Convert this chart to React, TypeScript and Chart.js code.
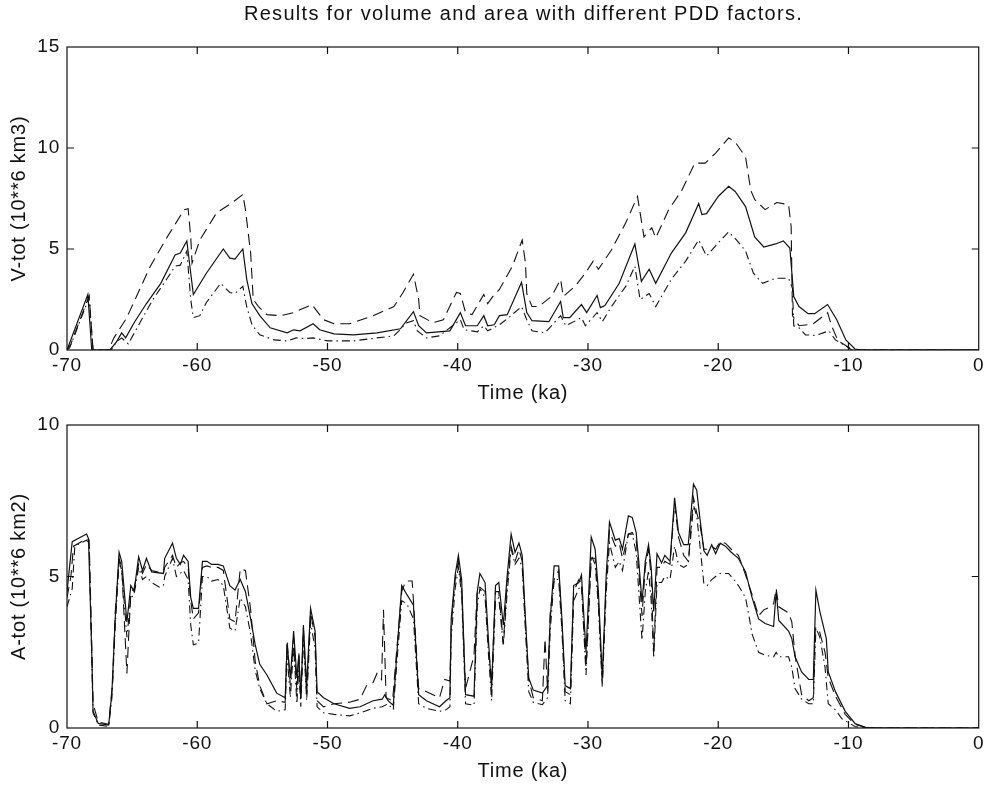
import React, { useEffect, useRef } from "react";
import { Chart, registerables } from "chart.js";

Chart.register(...registerables);

// ---------- text ----------
const TITLE = "Results for volume and area with different PDD factors.";
const X_LABEL = "Time (ka)";
const V_LABEL = "V-tot (10**6 km3)";
const A_LABEL = "A-tot (10**6 km2)";

// ---------- tick labels ----------
const X_TICKS = [-70, -60, -50, -40, -30, -20, -10, 0];
const V_TICKS = [0, 5, 10, 15];
const A_TICKS = [0, 5, 10];

// ---------- top panel: volume [time ka, value] ----------
const volSolid = [
  [-70, 0], [-68.4, 2.75], [-68.1, 0], [-67.9, 0], [-66.7, 0], [-66.2, 0.4], [-65.8, 0.85], [-65.5, 0.6],
  [-64.8, 1.4], [-63.9, 2.3], [-62.8, 3.3], [-61.7, 4.7], [-61.3, 4.8], [-60.8, 5.4], [-60.5, 3.8], [-60.3, 2.75],
  [-59.3, 3.8], [-58.0, 5.0], [-57.5, 4.55], [-57.1, 4.5], [-56.5, 5.0], [-56.2, 3.5], [-55.8, 2.3], [-55.2, 1.7],
  [-54.4, 1.1], [-53.1, 0.85], [-52.6, 1.0], [-52.1, 0.95], [-51.1, 1.3], [-50.6, 1.0], [-49.5, 0.8], [-48.0, 0.75],
  [-46.2, 0.85], [-44.4, 1.05], [-43.4, 1.9], [-43.0, 1.2], [-42.4, 0.85], [-40.6, 0.95], [-39.8, 1.85], [-39.4, 1.2],
  [-38.5, 1.2], [-38.0, 1.7], [-37.7, 1.2], [-37.2, 1.25], [-36.8, 1.7], [-36.2, 1.75], [-35.1, 3.35], [-34.7, 1.85],
  [-34.3, 1.45], [-33.0, 1.4], [-32.1, 2.4], [-31.9, 1.6], [-31.4, 1.6], [-30.5, 2.25], [-30.1, 1.85], [-29.3, 2.7],
  [-29.05, 2.1], [-28.7, 2.2], [-27.6, 3.3], [-26.4, 5.25], [-25.9, 3.4], [-25.3, 4.0], [-24.8, 3.3], [-23.6, 4.8],
  [-22.5, 5.8], [-21.5, 7.25], [-21.25, 6.7], [-20.9, 6.75], [-20.0, 7.6], [-19.2, 8.1], [-18.7, 7.85], [-17.9, 7.1],
  [-17.2, 5.6], [-16.5, 5.1], [-15.6, 5.25], [-15.0, 5.4], [-14.5, 5.05], [-14.2, 2.65], [-13.8, 2.15], [-13.1, 1.8],
  [-12.6, 1.8], [-11.6, 2.25], [-10.9, 1.5], [-10.2, 0.5], [-9.5, 0.05], [-9.0, 0], [0, 0],
];

const volDashed = [
  [-70, 0], [-69.7, 0.3], [-68.3, 2.7], [-68.0, 0], [-66.8, 0], [-66.4, 0.6], [-65.5, 1.5], [-65.2, 1.9],
  [-63.6, 4.15], [-62.3, 5.6], [-61.0, 6.95], [-60.7, 7.0], [-60.5, 5.6], [-60.4, 4.3], [-59.8, 5.45], [-58.5, 6.8],
  [-57.3, 7.3], [-56.5, 7.7], [-56.3, 6.95], [-55.9, 4.8], [-55.7, 2.5], [-55.3, 2.15], [-54.65, 1.75], [-53.6, 1.7],
  [-52.6, 1.85], [-51.2, 2.25], [-50.3, 1.5], [-49.5, 1.3], [-48.3, 1.3], [-46.5, 1.7], [-44.9, 2.15], [-44.2, 2.85],
  [-43.4, 3.75], [-43.0, 2.5], [-42.9, 1.7], [-41.9, 1.35], [-41.1, 1.5], [-40.1, 2.85], [-39.8, 2.8], [-39.4, 1.85],
  [-38.9, 1.75], [-38.0, 2.75], [-37.7, 2.3], [-37.3, 2.65], [-36.8, 3.0], [-35.8, 4.15], [-35.05, 5.45], [-34.8, 4.3],
  [-34.7, 2.8], [-34.3, 2.15], [-33.8, 2.15], [-32.8, 2.65], [-32.1, 3.5], [-31.9, 2.65], [-31.0, 3.15], [-30.2, 3.8],
  [-29.6, 4.4], [-29.2, 4.0], [-28.2, 4.95], [-27.1, 6.3], [-26.2, 7.6], [-26.0, 6.8], [-25.7, 5.6], [-25.1, 6.05],
  [-24.8, 5.55], [-23.8, 6.95], [-22.8, 7.9], [-21.8, 9.25], [-21.0, 9.25], [-20.2, 9.75], [-19.2, 10.5], [-18.7, 10.3],
  [-17.9, 9.55], [-17.5, 7.9], [-17.2, 7.45], [-16.4, 6.95], [-15.5, 7.3], [-14.6, 7.2], [-14.4, 6.1], [-14.3, 1.7],
  [-13.8, 1.2], [-13.1, 1.25], [-12.7, 1.3], [-11.6, 1.85], [-11.3, 1.2], [-10.8, 0.45], [-9.9, 0.1], [-9.4, 0], [0, 0],
];

const volDashDot = [
  [-70, 0], [-69.8, 0.1], [-68.3, 2.6], [-68.0, 0], [-66.6, 0], [-66.2, 0.4], [-65.8, 0.6], [-65.3, 0.3],
  [-64.4, 1.35], [-63.4, 2.5], [-62.3, 3.55], [-61.7, 4.15], [-61.3, 4.2], [-60.8, 4.9], [-60.5, 2.5], [-60.3, 1.6],
  [-59.8, 1.7], [-59.3, 2.35], [-58.2, 3.3], [-57.5, 2.85], [-57.1, 2.8], [-56.5, 3.15], [-56.2, 2.15], [-55.8, 1.25],
  [-55.2, 0.75], [-54.1, 0.5], [-53.1, 0.45], [-52.4, 0.6], [-51.7, 0.57], [-51.1, 0.6], [-50.0, 0.45], [-48.0, 0.45],
  [-46.2, 0.6], [-44.9, 0.7], [-43.9, 1.35], [-43.4, 1.45], [-43.1, 0.95], [-42.4, 0.6], [-41.4, 0.7], [-39.8, 1.5],
  [-39.5, 1.0], [-38.5, 0.9], [-38.0, 1.2], [-37.7, 0.95], [-36.8, 1.25], [-36.1, 1.6], [-35.1, 2.15], [-34.7, 1.5],
  [-34.3, 0.95], [-33.3, 0.85], [-32.1, 1.7], [-31.7, 1.2], [-30.5, 1.6], [-30.2, 1.2], [-29.3, 1.85], [-28.9, 1.4],
  [-28.2, 2.15], [-27.1, 3.15], [-26.4, 4.15], [-26.0, 2.5], [-25.3, 2.8], [-24.8, 2.15], [-23.6, 3.5], [-22.5, 4.4],
  [-21.5, 5.45], [-20.9, 4.65], [-20.0, 5.3], [-19.2, 5.85], [-18.6, 5.45], [-17.9, 4.9], [-17.3, 3.8], [-16.6, 3.3],
  [-15.6, 3.55], [-14.6, 3.55], [-14.3, 3.05], [-14.2, 1.2], [-13.8, 1.1], [-13.3, 0.75], [-12.5, 0.72], [-11.5, 0.95],
  [-11.0, 0.5], [-10.2, 0.2], [-9.75, 0], [0, 0],
];

// ---------- bottom panel: area [time ka, value] ----------
const areaSolid = [
  [-70, 4.5], [-69.6, 6.15], [-68.5, 6.4], [-68.35, 6.25], [-68.1, 2.5], [-68.0, 0.55], [-67.6, 0.15], [-66.8, 0.1],
  [-66.55, 1.2], [-66.3, 3.6], [-66.0, 5.8], [-65.8, 5.5], [-65.4, 3.5], [-65.1, 4.7], [-64.85, 4.5], [-64.5, 5.65],
  [-64.2, 5.2], [-63.9, 5.6], [-63.5, 5.15], [-62.6, 5.1], [-62.5, 5.6], [-61.9, 6.1], [-61.6, 5.6], [-61.3, 5.4],
  [-61.05, 5.7], [-60.7, 5.5], [-60.5, 4.3], [-60.3, 3.95], [-59.9, 3.95], [-59.6, 5.5], [-59.25, 5.5], [-58.9, 5.4],
  [-58.4, 5.4], [-58.0, 5.35], [-57.5, 4.7], [-57.1, 4.55], [-56.7, 4.9], [-56.3, 4.5], [-55.9, 3.6], [-55.55, 2.75],
  [-55.2, 2.1], [-54.65, 1.75], [-53.9, 1.15], [-53.25, 1.0], [-53.1, 2.75], [-52.85, 1.65], [-52.6, 3.2], [-52.35, 1.65],
  [-52.2, 2.4], [-52.05, 1.0], [-51.85, 3.4], [-51.6, 1.4], [-51.3, 3.95], [-50.95, 3.2], [-50.8, 1.2], [-50.3, 1.0],
  [-49.5, 0.8], [-48.3, 0.65], [-47.5, 0.7], [-46.5, 0.9], [-45.8, 0.95], [-45.6, 1.1], [-45.35, 0.9], [-44.95, 0.75],
  [-44.7, 2.3], [-44.3, 4.7], [-43.9, 4.4], [-43.4, 4.05], [-43.0, 1.1], [-42.4, 0.9], [-41.4, 0.7], [-40.9, 0.9],
  [-40.6, 1.0], [-40.5, 3.6], [-40.2, 5.05], [-39.95, 5.7], [-39.7, 4.9], [-39.4, 1.1], [-38.75, 1.05], [-38.5, 4.5],
  [-38.3, 5.1], [-37.9, 4.8], [-37.65, 2.95], [-37.4, 1.3], [-37.1, 4.7], [-36.85, 4.8], [-36.5, 3.4], [-36.2, 5.05],
  [-35.9, 6.4], [-35.6, 5.8], [-35.3, 6.1], [-35.05, 5.7], [-34.8, 3.6], [-34.55, 1.65], [-34.2, 1.25], [-33.5, 1.15],
  [-33.1, 1.4], [-32.9, 3.6], [-32.6, 5.35], [-32.25, 5.35], [-32.0, 3.6], [-31.75, 1.4], [-31.35, 1.3], [-31.1, 4.7],
  [-30.7, 4.8], [-30.5, 5.05], [-30.15, 2.5], [-29.75, 6.3], [-29.45, 5.9], [-29.2, 4.5], [-28.9, 1.65], [-28.6, 5.05],
  [-28.35, 6.8], [-27.9, 6.2], [-27.6, 6.25], [-27.35, 5.9], [-26.9, 7.0], [-26.6, 6.95], [-26.3, 6.45], [-26.1, 5.5],
  [-25.85, 4.15], [-25.6, 5.5], [-25.35, 6.05], [-25.15, 5.3], [-24.95, 3.85], [-24.7, 5.75], [-24.35, 5.45], [-24.1, 5.7],
  [-23.7, 5.5], [-23.35, 7.6], [-23.05, 6.45], [-22.65, 6.05], [-22.3, 6.05], [-21.9, 8.05], [-21.65, 7.85], [-21.4, 6.9],
  [-21.1, 5.85], [-20.85, 5.7], [-20.5, 6.05], [-20.2, 5.75], [-19.85, 6.1], [-19.45, 6.0], [-19.0, 5.8], [-18.45, 5.6],
  [-17.9, 5.15], [-17.4, 4.3], [-16.9, 3.6], [-16.4, 3.45], [-15.75, 3.35], [-15.55, 4.5], [-15.35, 3.55], [-14.6, 3.2],
  [-14.35, 2.95], [-14.1, 2.35], [-13.6, 1.85], [-13.05, 1.6], [-12.7, 1.6], [-12.5, 4.55], [-12.2, 3.85], [-11.7, 2.95],
  [-11.55, 1.85], [-11.0, 1.2], [-10.25, 0.55], [-9.5, 0.15], [-8.7, 0.02], [-8.0, 0], [0, 0],
];

const areaDashed = [
  [-70, 4.3], [-69.7, 5.0], [-69.5, 6.0], [-68.5, 6.25], [-68.3, 6.2], [-68.1, 2.8], [-68.0, 0.8], [-67.6, 0.2],
  [-66.8, 0.12], [-66.5, 1.5], [-66.3, 3.8], [-66.0, 5.6], [-65.8, 5.3], [-65.4, 1.8], [-65.1, 4.5], [-64.85, 4.6],
  [-64.5, 5.4], [-64.2, 5.1], [-63.9, 5.4], [-63.5, 5.2], [-62.6, 5.1], [-62.5, 5.3], [-61.9, 5.7], [-61.6, 5.3],
  [-61.3, 5.45], [-61.05, 5.5], [-60.7, 5.3], [-60.5, 4.2], [-60.3, 3.6], [-59.9, 3.8], [-59.6, 5.3], [-59.25, 5.35],
  [-58.9, 5.3], [-58.4, 5.3], [-58.0, 5.2], [-57.5, 3.6], [-57.1, 3.5], [-56.7, 5.25], [-56.3, 5.2], [-55.9, 3.9],
  [-55.55, 2.2], [-55.2, 1.4], [-54.65, 0.8], [-53.9, 0.9], [-53.25, 0.85], [-53.1, 2.9], [-52.85, 1.4], [-52.6, 3.0],
  [-52.35, 1.2], [-52.2, 2.5], [-52.05, 0.9], [-51.85, 3.3], [-51.6, 1.1], [-51.3, 3.8], [-50.95, 3.0], [-50.8, 0.9],
  [-50.3, 0.7], [-49.5, 0.8], [-48.3, 0.85], [-47.5, 0.95], [-47.0, 1.4], [-46.5, 1.5], [-46.2, 1.8], [-45.85, 1.6],
  [-45.7, 3.9], [-45.5, 1.0], [-45.0, 0.9], [-44.7, 2.5], [-44.3, 4.5], [-44.0, 4.85], [-43.5, 4.85], [-43.4, 4.2],
  [-43.0, 1.3], [-42.4, 1.2], [-41.4, 1.0], [-41.0, 1.6], [-40.6, 1.55], [-40.5, 3.4], [-40.2, 4.9], [-39.95, 5.5],
  [-39.7, 4.6], [-39.4, 1.3], [-38.75, 2.4], [-38.5, 4.6], [-38.3, 4.65], [-37.9, 4.5], [-37.65, 2.7], [-37.4, 1.5],
  [-37.1, 4.5], [-36.85, 4.5], [-36.5, 2.8], [-36.2, 4.8], [-35.9, 6.0], [-35.6, 5.5], [-35.3, 5.9], [-35.05, 5.5],
  [-34.8, 3.4], [-34.55, 1.6], [-34.2, 1.0], [-33.5, 0.9], [-33.3, 2.95], [-33.1, 1.2], [-32.9, 3.8], [-32.6, 4.9],
  [-32.25, 5.2], [-32.0, 3.4], [-31.75, 1.2], [-31.35, 1.1], [-31.1, 4.5], [-30.7, 4.9], [-30.5, 4.8], [-30.15, 2.0],
  [-29.75, 5.6], [-29.45, 5.6], [-29.2, 4.2], [-28.9, 1.5], [-28.6, 4.8], [-28.35, 6.5], [-27.9, 6.0], [-27.6, 6.1],
  [-27.35, 5.6], [-26.9, 6.4], [-26.6, 6.45], [-26.3, 6.2], [-26.1, 5.2], [-25.85, 3.7], [-25.6, 5.3], [-25.35, 5.9],
  [-25.15, 5.0], [-24.95, 2.5], [-24.7, 5.3], [-24.35, 5.3], [-24.1, 5.5], [-23.7, 5.4], [-23.35, 7.4], [-23.05, 6.3],
  [-22.65, 5.7], [-22.3, 5.5], [-21.9, 7.6], [-21.65, 7.1], [-21.4, 6.7], [-21.1, 5.9], [-20.85, 5.9], [-20.5, 6.0],
  [-20.2, 5.9], [-19.85, 6.15], [-19.45, 6.1], [-19.0, 5.9], [-18.45, 5.7], [-17.9, 5.05], [-17.4, 4.4], [-16.9, 3.7],
  [-16.5, 3.9], [-16.0, 4.0], [-15.75, 4.1], [-15.55, 4.6], [-15.35, 4.0], [-14.6, 3.8], [-14.35, 3.5], [-14.1, 2.4],
  [-13.6, 1.1], [-13.05, 0.9], [-12.7, 1.0], [-12.55, 3.3], [-12.3, 3.3], [-11.8, 2.5], [-11.55, 1.65], [-11.0, 1.05],
  [-10.25, 0.45], [-9.5, 0.12], [-8.7, 0.02], [-8.0, 0], [0, 0],
];

const areaDashDot = [
  [-70, 4.0], [-69.6, 4.6], [-69.4, 6.0], [-68.5, 6.2], [-68.3, 6.1], [-68.1, 2.3], [-68.0, 0.5], [-67.6, 0.1],
  [-66.8, 0.05], [-66.55, 1.0], [-66.3, 3.3], [-66.0, 5.5], [-65.8, 5.2], [-65.4, 3.0], [-65.1, 4.3], [-64.85, 4.4],
  [-64.5, 5.3], [-64.2, 4.9], [-63.9, 5.0], [-63.5, 4.8], [-62.9, 4.65], [-62.6, 4.7], [-62.5, 5.0], [-61.9, 5.6],
  [-61.6, 5.0], [-61.3, 5.1], [-61.05, 5.2], [-60.7, 4.9], [-60.5, 3.4], [-60.3, 2.75], [-59.9, 2.8], [-59.6, 5.0],
  [-59.25, 5.0], [-58.9, 4.85], [-58.4, 4.9], [-58.0, 4.7], [-57.5, 3.3], [-57.1, 3.2], [-56.7, 4.3], [-56.3, 4.0],
  [-55.9, 3.1], [-55.55, 1.9], [-55.2, 1.3], [-54.65, 0.8], [-53.9, 0.55], [-53.25, 0.6], [-53.1, 2.4], [-52.85, 1.0],
  [-52.6, 2.7], [-52.35, 0.8], [-52.2, 2.0], [-52.05, 0.7], [-51.85, 3.0], [-51.6, 0.9], [-51.3, 3.5], [-50.95, 2.6],
  [-50.8, 0.7], [-50.3, 0.5], [-49.5, 0.45], [-48.3, 0.4], [-47.5, 0.5], [-46.5, 0.65], [-45.8, 0.7], [-45.35, 0.8],
  [-44.95, 0.6], [-44.7, 2.0], [-44.3, 4.2], [-43.9, 4.1], [-43.4, 3.6], [-43.0, 0.8], [-42.4, 0.65], [-41.4, 0.55],
  [-40.9, 0.6], [-40.6, 0.7], [-40.5, 3.0], [-40.2, 4.6], [-39.95, 5.3], [-39.7, 4.4], [-39.4, 0.8], [-38.75, 0.75],
  [-38.5, 4.0], [-38.3, 4.6], [-37.9, 4.3], [-37.65, 2.5], [-37.4, 0.9], [-37.1, 4.2], [-36.85, 4.3], [-36.5, 2.7],
  [-36.2, 4.5], [-35.9, 5.9], [-35.6, 5.4], [-35.3, 5.6], [-35.05, 5.3], [-34.8, 3.2], [-34.55, 1.2], [-34.2, 0.85],
  [-33.5, 0.77], [-33.1, 1.0], [-32.9, 3.2], [-32.6, 4.9], [-32.25, 4.9], [-32.0, 3.2], [-31.75, 0.9], [-31.35, 0.8],
  [-31.1, 4.2], [-30.7, 4.6], [-30.5, 4.7], [-30.15, 1.75], [-29.75, 5.7], [-29.45, 5.4], [-29.2, 4.0], [-28.9, 1.35],
  [-28.6, 4.5], [-28.35, 6.1], [-27.9, 5.3], [-27.6, 5.5], [-27.35, 5.2], [-26.9, 6.4], [-26.6, 6.4], [-26.3, 5.8],
  [-26.1, 4.5], [-25.85, 2.9], [-25.6, 4.5], [-25.35, 5.2], [-25.15, 4.2], [-24.95, 2.3], [-24.7, 4.8], [-24.35, 4.8],
  [-24.1, 5.0], [-23.7, 4.9], [-23.35, 6.0], [-23.05, 5.4], [-22.65, 5.3], [-22.3, 5.4], [-21.9, 7.35], [-21.65, 7.0],
  [-21.4, 6.0], [-21.1, 4.75], [-20.85, 4.7], [-20.5, 4.9], [-20.2, 5.0], [-19.85, 5.1], [-19.2, 5.1], [-18.8, 4.9],
  [-18.45, 4.7], [-17.9, 4.3], [-17.6, 3.6], [-17.4, 3.1], [-16.9, 2.5], [-16.4, 2.4], [-15.75, 2.35], [-15.55, 2.5],
  [-15.35, 2.35], [-14.6, 2.35], [-14.35, 2.0], [-14.1, 1.3], [-13.6, 0.95], [-13.05, 0.8], [-12.7, 0.8], [-12.5, 3.3],
  [-12.2, 3.0], [-11.8, 2.0], [-11.55, 0.8], [-11.0, 0.6], [-10.5, 0.3], [-9.5, 0.05], [-8.7, 0], [0, 0],
];

// ---------- styling ----------
const FONT = '"Liberation Sans", Arial, Helvetica, sans-serif';
const INK = "#111111";
const TICK_LEN = 7;

const boxPlugin = {
  id: "matlabBox",
  beforeDraw(chart: any) {
    try { (chart.ctx as any).letterSpacing = "0.8px"; } catch (e) {}
  },
  afterDatasetsDraw(chart: any) {
    const { ctx, chartArea: a, scales } = chart;
    const xs = scales.x;
    const ys = scales.y;
    ctx.save();
    ctx.strokeStyle = INK;
    ctx.lineWidth = 1.2;
    ctx.strokeRect(a.left, a.top, a.right - a.left, a.bottom - a.top);
    ctx.beginPath();
    xs.ticks.forEach((t: any) => {
      const px = xs.getPixelForValue(t.value);
      if (px <= a.left + 1 || px >= a.right - 1) return;
      ctx.moveTo(px, a.bottom);
      ctx.lineTo(px, a.bottom - TICK_LEN);
      ctx.moveTo(px, a.top);
      ctx.lineTo(px, a.top + TICK_LEN);
    });
    ys.ticks.forEach((t: any) => {
      const py = ys.getPixelForValue(t.value);
      if (py <= a.top + 1 || py >= a.bottom - 1) return;
      ctx.moveTo(a.left, py);
      ctx.lineTo(a.left + TICK_LEN, py);
      ctx.moveTo(a.right, py);
      ctx.lineTo(a.right - TICK_LEN, py);
    });
    ctx.stroke();
    ctx.restore();
  },
};

const toXY = (arr: number[][]) => arr.map((p) => ({ x: p[0], y: p[1] }));

type PanelProps = {
  top: number;
  height: number;
  padTop: number;
  padBottom: number;
  yTicks: number[];
  yLabel: string;
  solid: number[][];
  dashed: number[][];
  dashDot: number[][];
};

function Panel(props: PanelProps) {
  const ref = useRef<HTMLCanvasElement | null>(null);
  useEffect(() => {
    if (!ref.current) return;
    const line = (data: number[][], dash: number[], w: number) => ({
      data: toXY(data),
      borderColor: INK,
      borderWidth: w,
      borderDash: dash,
      pointRadius: 0,
      showLine: true,
      fill: false,
      tension: 0,
    });
    const chart = new Chart(ref.current, {
      type: "scatter",
      data: {
        datasets: [
          line(props.solid, [], 1.2),
          line(props.dashed, [11, 6], 1.1),
          line(props.dashDot, [8, 4, 1.5, 4], 1.1),
        ],
      },
      options: {
        animation: false,
        responsive: false,
        devicePixelRatio: 1,
        layout: { padding: { top: props.padTop, right: 8, bottom: props.padBottom, left: 0 } },
        plugins: { legend: { display: false }, tooltip: { enabled: false }, title: { display: false } },
        scales: {
          x: {
            type: "linear",
            min: X_TICKS[0],
            max: X_TICKS[X_TICKS.length - 1],
            afterBuildTicks: (s: any) => { s.ticks = X_TICKS.map((v) => ({ value: v })); },
            afterFit: (s: any) => { s.height = 55; },
            grid: { display: false, drawTicks: false },
            border: { display: false },
            ticks: { color: INK, font: { family: FONT, size: 19 }, padding: 4, maxRotation: 0 },
            title: { display: true, text: X_LABEL, color: INK, font: { family: FONT, size: 20 }, padding: { top: 0, bottom: 0 } },
          },
          y: {
            type: "linear",
            min: props.yTicks[0],
            max: props.yTicks[props.yTicks.length - 1],
            afterBuildTicks: (s: any) => { s.ticks = props.yTicks.map((v) => ({ value: v })); },
            afterFit: (s: any) => { s.width = 67; },
            grid: { display: false, drawTicks: false },
            border: { display: false },
            ticks: { color: INK, font: { family: FONT, size: 19 }, padding: 7 },
            title: { display: true, text: props.yLabel, color: INK, font: { family: FONT, size: 20 }, padding: { top: 7, bottom: 0 } },
          },
        },
      },
      plugins: [boxPlugin],
    } as any);
    return () => chart.destroy();
  }, []);
  return (
    <canvas
      ref={ref}
      width={988}
      height={props.height}
      style={{ position: "absolute", left: 0, top: props.top, width: 988, height: props.height }}
    />
  );
}

export default function App() {
  return (
    <div style={{ position: "absolute", left: 0, top: 0, width: 988, height: 791, background: "#fff", overflow: "hidden" }}>
      <Panel top={0} height={405} padTop={47} padBottom={0} yTicks={V_TICKS} yLabel={V_LABEL}
        solid={volSolid} dashed={volDashed} dashDot={volDashDot} />
      <Panel top={405} height={386} padTop={20} padBottom={8} yTicks={A_TICKS} yLabel={A_LABEL}
        solid={areaSolid} dashed={areaDashed} dashDot={areaDashDot} />
      <div
        style={{
          position: "absolute",
          zIndex: 2,
          left: 67,
          width: 913,
          top: 1,
          textAlign: "center",
          fontFamily: FONT,
          fontSize: 20,
          lineHeight: "24px",
          letterSpacing: "1.3px",
          color: INK,
          whiteSpace: "nowrap",
        }}
      >
        {TITLE}
      </div>
    </div>
  );
}
